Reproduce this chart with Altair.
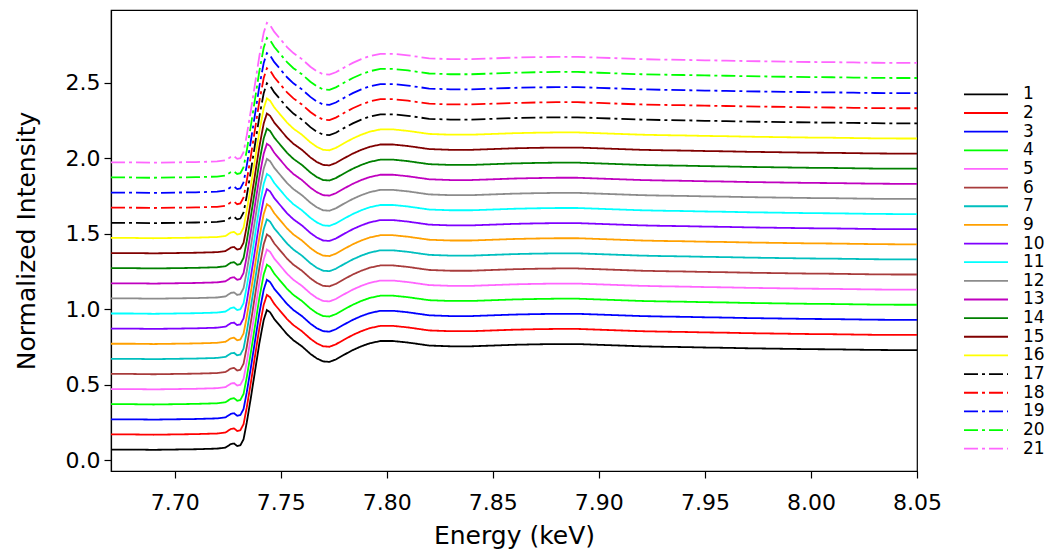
import altair as alt
import pandas as pd

# Series labels (no "8" in the reference), colours and dash styles
labels = ["1", "2", "3", "4", "5", "6", "7", "9", "10", "11", "12", "13", "14",
          "15", "16", "17", "18", "19", "20", "21"]
colors = ["#000000", "#ff0000", "#0000ff", "#00ff00", "#ff66ff", "#a83c3c", "#00bfbf",
          "#ffa000", "#7f00ff", "#00ffff", "#8c8c8c", "#bf00bf", "#008000",
          "#800000", "#ffff00", "#000000", "#ff0000", "#0000ff", "#00ff00", "#ff66ff"]
solid = [1, 0]
dashdot = [14, 4, 3, 4]
dashes = [solid] * 15 + [dashdot] * 5

# Vertical offset of each spectrum (read from pre-edge levels)
offsets = [0.0, 0.1, 0.2, 0.3, 0.4, 0.5, 0.6, 0.7, 0.8, 0.9, 1.0, 1.1, 1.2,
           1.3, 1.4, 1.5, 1.6, 1.7, 1.8, 1.9]

# Spectrum shape (lowest curve), energy in keV
energy = [7.670, 7.680, 7.690, 7.700, 7.710, 7.720, 7.724, 7.7265, 7.728, 7.7295,
          7.731, 7.7325, 7.734, 7.736, 7.738, 7.740, 7.742, 7.7435, 7.745, 7.747,
          7.750, 7.753, 7.756, 7.760, 7.764, 7.767, 7.770, 7.773, 7.776, 7.780,
          7.784, 7.788, 7.792, 7.797, 7.803, 7.810, 7.815, 7.820, 7.830, 7.840,
          7.850, 7.860, 7.870, 7.880, 7.890, 7.900, 7.910, 7.920, 7.930, 7.940,
          7.950, 7.960, 7.970, 7.980, 7.990, 8.000, 8.010, 8.020, 8.030, 8.040,
          8.050]
intensity = [0.072, 0.072, 0.070, 0.072, 0.074, 0.078, 0.085, 0.108, 0.112, 0.095,
             0.100, 0.140, 0.250, 0.420, 0.600, 0.780, 0.930, 0.995, 0.980, 0.935,
             0.885, 0.835, 0.795, 0.755, 0.705, 0.675, 0.655, 0.652, 0.668, 0.700,
             0.730, 0.755, 0.775, 0.790, 0.790, 0.780, 0.770, 0.760, 0.755, 0.755,
             0.760, 0.765, 0.768, 0.770, 0.770, 0.765, 0.760, 0.755, 0.752, 0.750,
             0.747, 0.745, 0.742, 0.740, 0.738, 0.736, 0.735, 0.733, 0.731, 0.730,
             0.730]

x_ticks = [7.70, 7.75, 7.80, 7.85, 7.90, 7.95, 8.00, 8.05]
y_ticks = [0.0, 0.5, 1.0, 1.5, 2.0, 2.5]

rows = []
for s, (lab, off) in enumerate(zip(labels, offsets)):
    for i, (e, v) in enumerate(zip(energy, intensity)):
        rows.append({"series": lab, "order": s, "idx": i, "energy": e, "value": v + off})
df = pd.DataFrame(rows)

FONT = "DejaVu Sans"

color_scale = alt.Scale(domain=labels, range=colors)
dash_scale = alt.Scale(domain=labels, range=dashes)

main = alt.Chart(df).mark_line(strokeWidth=1.8, clip=True).encode(
    x=alt.X("energy:Q", title="Energy (keV)",
            scale=alt.Scale(domain=[7.67, 8.05], nice=False, zero=False),
            axis=alt.Axis(values=x_ticks, format=".2f", grid=False, tickSize=7,
                          labelPadding=14, titlePadding=10, labelFlush=False)),
    y=alt.Y("value:Q", title="Normalized Intensity",
            scale=alt.Scale(domain=[-0.07, 2.98], nice=False, zero=False),
            axis=alt.Axis(values=y_ticks, format=".1f", grid=False, tickSize=7,
                          labelPadding=4, titlePadding=26, labelFlush=False)),
    color=alt.Color("series:N", scale=color_scale, legend=None),
    strokeDash=alt.StrokeDash("series:N", scale=dash_scale, legend=None),
    detail="order:O",
    order="idx:Q",
).properties(width=806, height=461,
             view=alt.ViewBackground(stroke="black", strokeWidth=1.2))

leg_df = pd.DataFrame({"series": labels})
leg_y = alt.Y("series:N", scale=alt.Scale(domain=labels, range=[75, 448]), axis=None)
leg_rules = alt.Chart(leg_df).mark_rule(strokeWidth=1.8).encode(
    x=alt.value(5), x2=alt.value(49), y=leg_y,
    color=alt.Color("series:N", scale=color_scale, legend=None),
    strokeDash=alt.StrokeDash("series:N", scale=dash_scale, legend=None),
)
leg_text = alt.Chart(leg_df).mark_text(align="left", baseline="middle", fontSize=17,
                                       font=FONT, color="black").encode(
    x=alt.value(64), y=leg_y, text="series:N")
legend = alt.layer(leg_rules, leg_text).properties(
    width=82, height=461, view=alt.ViewBackground(stroke=None))

chart = alt.hconcat(main, legend, spacing=16).properties(
    padding={"left": 5, "top": 1, "right": 0, "bottom": 0}
).configure_view(stroke=None).configure_axis(
    labelFont=FONT, titleFont=FONT, labelFontSize=22, titleFontSize=25,
    labelColor="black", titleColor="black", tickColor="black", domainColor="black",
    titleFontWeight="normal", domainWidth=1.2, tickWidth=1.2
)

chart.save("out.html", embed_options={"renderer": "svg", "actions": False})
